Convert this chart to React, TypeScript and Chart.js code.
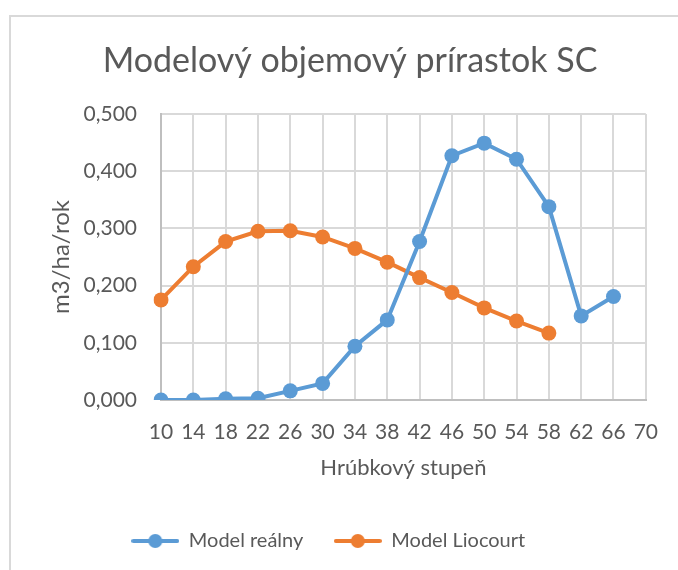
import React, { useEffect, useRef } from 'react';
import { Chart, registerables } from 'chart.js';

Chart.register(...registerables);

const TITLE = 'Modelový objemový prírastok SC';
const X_TITLE = 'Hrúbkový stupeň';
const Y_TITLE = 'm3/ha/rok';
const SERIES_NAMES = ['Model reálny', 'Model Liocourt'];
const categories = ['10', '14', '18', '22', '26', '30', '34', '38', '42', '46', '50', '54', '58', '62', '66', '70'];
const modelRealny = [0.0, 0.0, 0.002, 0.003, 0.016, 0.029, 0.094, 0.14, 0.277, 0.427, 0.449, 0.421, 0.338, 0.147, 0.181];
const modelLiocourt = [0.175, 0.233, 0.277, 0.295, 0.296, 0.285, 0.265, 0.241, 0.214, 0.188, 0.161, 0.138, 0.117];
const yMin = 0;
const yMax = 0.5;
const yStep = 0.1;

const BLUE = '#5B9BD5';
const ORANGE = '#ED7D31';
const TEXT = '#595959';
const FONT = 'Lato';

function legendIcon(color: string): HTMLCanvasElement {
  const c = document.createElement('canvas');
  c.width = 48;
  c.height = 18;
  const ctx = c.getContext('2d')!;
  ctx.strokeStyle = color;
  ctx.lineWidth = 4;
  ctx.lineCap = 'round';
  ctx.beginPath();
  ctx.moveTo(2, 9);
  ctx.lineTo(46, 9);
  ctx.stroke();
  ctx.fillStyle = color;
  ctx.beginPath();
  ctx.arc(24, 9, 7, 0, Math.PI * 2);
  ctx.fill();
  return c;
}

const titlePlugin = {
  id: 'customTitle',
  afterDraw(chart: any) {
    const ctx = chart.ctx;
    ctx.save();
    ctx.font = `34px ${FONT}`;
    ctx.fillStyle = TEXT;
    ctx.textAlign = 'center';
    ctx.textBaseline = 'alphabetic';
    ctx.fillText(TITLE, 350, 72);
    ctx.restore();
  },
};

export default function App() {
  const ref = useRef<HTMLCanvasElement | null>(null);
  useEffect(() => {
    if (!ref.current) return;
    const colors = [BLUE, ORANGE];
    const icons = colors.map(legendIcon);
    const mk = (label: string, data: number[], color: string) => ({
      label,
      data,
      borderColor: color,
      backgroundColor: color,
      borderWidth: 4,
      pointRadius: 7.5,
      pointHoverRadius: 7.5,
      pointBorderWidth: 0,
      pointBackgroundColor: color,
      tension: 0,
    });
    const chart = new Chart(ref.current, {
      type: 'line',
      data: {
        labels: categories,
        datasets: [mk(SERIES_NAMES[0], modelRealny, BLUE), mk(SERIES_NAMES[1], modelLiocourt, ORANGE)],
      },
      options: {
        animation: false,
        responsive: false,
        maintainAspectRatio: false,
        layout: { padding: { left: 10, right: 31, top: 114, bottom: 9 } },
        plugins: {
          title: { display: false },
          tooltip: { enabled: false },
          legend: {
            position: 'bottom',
            labels: {
              usePointStyle: true,
              pointStyleWidth: 47,
              padding: 31,
              color: TEXT,
              font: { family: FONT, size: 20 },
              generateLabels: (ch: any) =>
                ch.data.datasets.map((ds: any, i: number) => ({
                  text: ds.label,
                  pointStyle: icons[i],
                  fillStyle: colors[i],
                  strokeStyle: colors[i],
                  lineWidth: 0,
                  fontColor: TEXT,
                  hidden: false,
                  datasetIndex: i,
                })),
            },
          },
        },
        scales: {
          x: {
            type: 'category',
            offset: false,
            afterFit: (s: any) => {
              s.height = 100;
            },
            grid: { color: '#D9D9D9', lineWidth: 2, drawTicks: false, offset: false },
            border: { color: '#BFBFBF', width: 2 },
            ticks: { color: TEXT, font: { family: FONT, size: 21 }, padding: 20, maxRotation: 0, autoSkip: false },
            title: { display: true, text: X_TITLE, color: TEXT, font: { family: FONT, size: 22 }, padding: { top: 0, bottom: 19 } },
          },
          y: {
            min: yMin,
            max: yMax,
            afterFit: (s: any) => {
              s.width = 151;
            },
            grid: { color: '#D9D9D9', lineWidth: 2, drawTicks: false },
            border: { color: '#BFBFBF', width: 2 },
            ticks: {
              stepSize: yStep,
              color: TEXT,
              font: { family: FONT, size: 21 },
              padding: 24,
              callback: (v: any) => Number(v).toFixed(3).replace('.', ','),
            },
            title: { display: true, text: Y_TITLE, color: TEXT, font: { family: FONT, size: 24 }, padding: { top: 37, bottom: 0 } },
          },
        },
      },
      plugins: [titlePlugin],
    });
    return () => chart.destroy();
  }, []);
  return (
    <div style={{ position: 'fixed', left: 0, top: 0, width: 678, height: 570, overflow: 'hidden', background: '#fff' }}>
      <div
        style={{
          position: 'absolute',
          left: 9,
          top: 15,
          width: 720,
          height: 620,
          border: '2px solid #D9D9D9',
          boxSizing: 'border-box',
        }}
      />
      <canvas ref={ref} width={678} height={570} style={{ position: 'absolute', left: 0, top: 0, width: 678, height: 570 }} />
    </div>
  );
}
